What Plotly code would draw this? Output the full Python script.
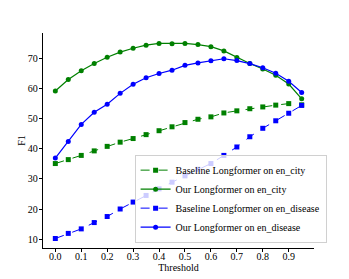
import plotly.graph_objects as go

thresholds = [0.0, 0.05, 0.1, 0.15, 0.2, 0.25, 0.3, 0.35, 0.4, 0.45,
              0.5, 0.55, 0.6, 0.65, 0.7, 0.75, 0.8, 0.85, 0.9, 0.95]

baseline_city = [35.1, 36.4, 37.8, 39.3, 40.8, 42.2, 43.4, 44.7, 46.0, 47.3,
                 48.7, 49.8, 50.6, 51.9, 52.6, 53.3, 53.9, 54.5, 55.0, 54.6]
our_city = [59.2, 63.0, 65.9, 68.3, 70.4, 72.1, 73.4, 74.4, 75.0, 74.9,
            75.0, 74.6, 73.9, 72.5, 70.3, 68.3, 66.5, 64.4, 61.5, 56.6]
baseline_disease = [10.2, 11.9, 13.4, 15.5, 17.5, 20.0, 22.3, 24.5, 26.7, 28.9,
                    31.0, 33.2, 35.1, 37.8, 40.6, 44.0, 46.8, 49.3, 51.8, 54.4]
our_disease = [36.9, 42.4, 48.1, 52.1, 54.8, 58.4, 61.4, 63.6, 65.0, 66.1,
               67.7, 68.5, 69.2, 69.9, 69.3, 68.3, 66.9, 65.1, 62.4, 58.7]

x_ticks = [0.0, 0.1, 0.2, 0.3, 0.4, 0.5, 0.6, 0.7, 0.8, 0.9]
y_ticks = [10, 20, 30, 40, 50, 60, 70]

FONT = "Times New Roman, Liberation Serif, DejaVu Serif, serif"
FS = 10

fig = go.Figure()
fig.add_trace(go.Scatter(x=thresholds, y=baseline_city, mode="lines+markers",
                         name="Baseline Longformer on en_city",
                         line=dict(color="green", width=1, dash="dash"),
                         marker=dict(symbol="square", size=5, color="green")))
fig.add_trace(go.Scatter(x=thresholds, y=our_city, mode="lines+markers",
                         name="Our Longformer on en_city",
                         line=dict(color="green", width=1.2),
                         marker=dict(symbol="circle", size=5, color="green")))
fig.add_trace(go.Scatter(x=thresholds, y=baseline_disease, mode="lines+markers",
                         name="Baseline Longformer on en_disease",
                         line=dict(color="blue", width=1, dash="dash"),
                         marker=dict(symbol="square", size=5, color="blue")))
fig.add_trace(go.Scatter(x=thresholds, y=our_disease, mode="lines+markers",
                         name="Our Longformer on en_disease",
                         line=dict(color="blue", width=1.2),
                         marker=dict(symbol="circle", size=5, color="blue")))

axis_common = dict(showgrid=False, zeroline=False, showline=True, linecolor="black",
                   linewidth=1, ticks="outside", ticklen=3.3, tickwidth=0.8,
                   tickcolor="black", automargin=False,
                   tickfont=dict(family=FONT, size=FS, color="black"))

# page body has an 8px default margin, so the figure is sized/offset to compensate
fig.update_layout(
    width=341, height=271,
    margin=dict(l=35, r=35, t=25, b=31),
    paper_bgcolor="white", plot_bgcolor="white",
    font=dict(family=FONT, size=FS, color="black"),
    xaxis=dict(range=[-0.0475, 0.9975], tickvals=x_ticks,
               ticktext=[f"{v:.1f}" for v in x_ticks], ticklabelstandoff=-4,
               title=dict(text="Threshold", standoff=0,
                          font=dict(family=FONT, size=FS)), **axis_common),
    yaxis=dict(range=[7.05, 78.45], tickvals=y_ticks, ticklabelstandoff=-1,
               title=dict(text="F1", standoff=0,
                          font=dict(family=FONT, size=FS)), **axis_common),
    legend=dict(x=0.338, y=0.025, xanchor="left", yanchor="bottom",
                bordercolor="#d0d0d0", borderwidth=1, bgcolor="rgba(255,255,255,0.8)",
                font=dict(family=FONT, size=FS), tracegroupgap=0,
                itemwidth=30),
    showlegend=True,
)

fig.write_html("out.html")
